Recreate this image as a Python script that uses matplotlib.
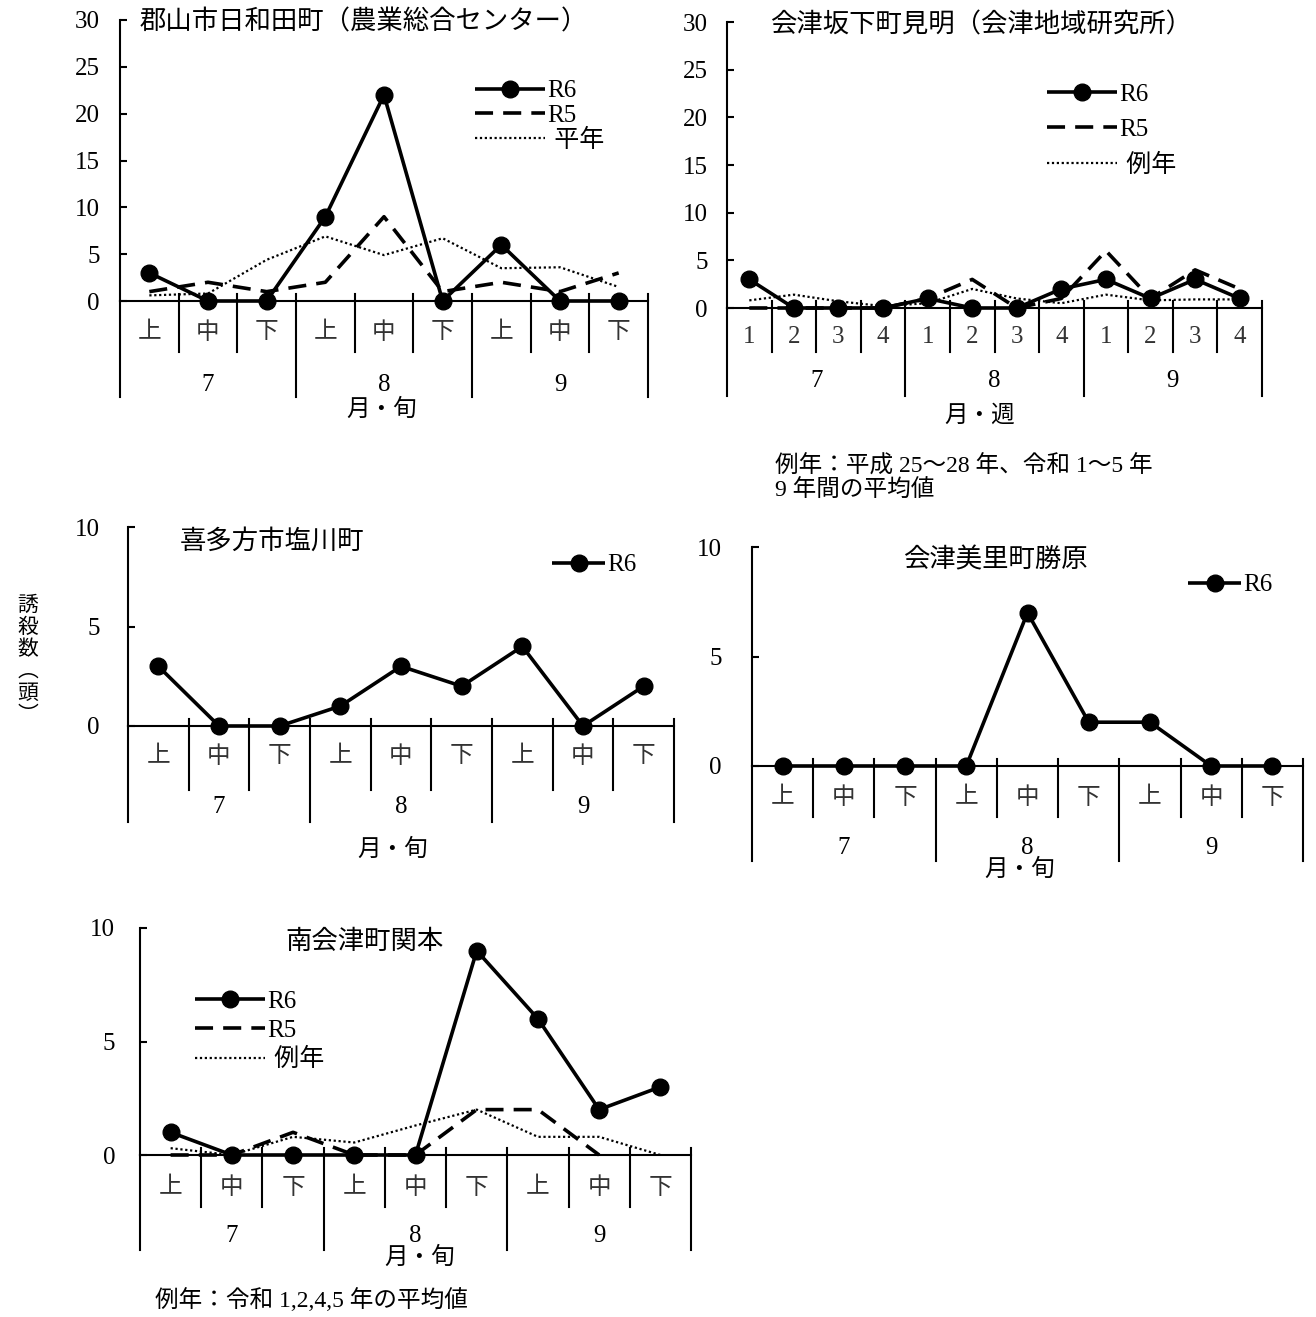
import matplotlib
matplotlib.use('Agg')
import matplotlib.pyplot as plt
import numpy as np
from matplotlib.transforms import blended_transform_factory

W, H = 1316, 1317
FONT = ['Liberation Serif', 'Noto Sans CJK JP']
plt.rcParams['font.family'] = FONT

# ---------------- data ----------------
jun_labels = ['上', '中', '下'] * 3
week_labels = ['1', '2', '3', '4'] * 3
month_labels = ['7', '8', '9']

koriyama_r6 = [3, 0, 0, 9, 22, 0, 6, 0, 0]
koriyama_r5 = [1, 2, 1, 2, 9, 1, 2, 1, 3]
koriyama_avg = [0.6, 0.8, 4.4, 6.9, 4.9, 6.7, 3.5, 3.6, 1.5]

bange_r6 = [3, 0, 0, 0, 1, 0, 0, 2, 3, 1, 3, 1]
bange_r5 = [0, 0, 0, 0, 1, 3, 0, 1, 6, 1, 4, 2]
bange_avg = [0.8, 1.4, 0.7, 0.2, 0.5, 2.0, 1.0, 0.5, 1.4, 0.8, 0.9, 0.9]

kitakata_r6 = [3, 0, 0, 1, 3, 2, 4, 0, 2]

misato_r6 = [0, 0, 0, 0, 7, 2, 2, 0, 0]

minami_r6 = [1, 0, 0, 0, 0, 9, 6, 2, 3]
minami_r5 = [0, 0, 1, 0, 0, 2, 2, 0, np.nan]
minami_avg = [0.3, 0.0, 0.8, 0.55, 1.3, 2.0, 0.8, 0.8, 0.0]

# ---------------- styles ----------------
STY_R6 = dict(color='black', lw=2.6, marker='o', ms=12, solid_capstyle='butt')
STY_R5 = dict(color='black', lw=2.6, linestyle=(0, (5, 2.8)))
STY_AVG = dict(color='black', lw=1.6, linestyle=(0, (1, 1.2)))
FS = 18      # numbers / legend
FS_CAT = 17  # 上中下
FS_TITLE = 19

fig = plt.figure(figsize=(W / 100, H / 100), dpi=100)


def chart(xl, xr, y0, yt, ymax, cats, series, title, title_xy,
          legend_xy, leg_spacing, leg_ls, handle_px, sep_b, grp_b, cat_y, mon_y,
          xlabel, xlabel_xy, pad_px):
    ax = fig.add_axes([xl / W, 1 - y0 / H, (xr - xl) / W, (y0 - yt) / H])
    n = len(cats)
    x = np.arange(n) + 0.5
    ax.set_xlim(0, n)
    ax.set_ylim(0, ymax)
    handles, labels = [], []
    for vals, sty, lab in series:
        ln, = ax.plot(x, vals, clip_on=False, zorder=3 if 'marker' in sty else 2, **sty)
        handles.append(ln)
        labels.append(lab)
    for s in ['top', 'right']:
        ax.spines[s].set_visible(False)
    ax.spines['left'].set_linewidth(1.5)
    ax.spines['bottom'].set_linewidth(1.5)
    ax.set_yticks(np.arange(0, ymax + 1, 5))
    ax.set_yticklabels([str(v) for v in range(0, ymax + 1, 5)])
    ax.tick_params(axis='y', direction='in', length=5, width=1.5,
                   pad=pad_px * 0.72, labelsize=FS)
    ax.set_xticks([])
    ax.patch.set_alpha(0)

    def f(py):
        return (y0 - py) / (y0 - yt)

    tr = blended_transform_factory(ax.transData, ax.transAxes)
    per = n // 3
    for i in range(1, n):
        bottom = grp_b if i % per == 0 else sep_b
        ax.plot([i, i], [f(y0 - 7), f(bottom)], transform=tr, color='black',
                lw=1.5, clip_on=False)
    ax.plot([0, 0], [0, f(grp_b)], transform=tr, color='black', lw=1.5, clip_on=False)
    ax.plot([n, n], [f(y0 - 7), f(grp_b)], transform=tr, color='black', lw=1.5,
            clip_on=False)
    for i, c in enumerate(cats):
        ax.text(i + 0.5, f(cat_y), c, transform=tr, ha='center', va='center',
                fontsize=FS_CAT if not c.isdigit() else FS, color='#333333')
    for k, m in enumerate(month_labels):
        ax.text(k * per + per / 2, f(mon_y), m, transform=tr, ha='center',
                va='center', fontsize=FS)
    fig.text(xlabel_xy[0] / W, 1 - xlabel_xy[1] / H, xlabel, ha='center',
             va='center', fontsize=FS_CAT)
    fig.text(title_xy[0] / W, 1 - title_xy[1] / H, title, ha='left',
             va='center', fontsize=FS_TITLE)
    hl = handle_px / (FS * 100 / 72)
    ax.legend(handles, labels, loc='center left',
              bbox_to_anchor=(legend_xy[0] / W,
                              1 - (legend_xy[1] + leg_spacing * (len(labels) - 1) / 2) / H),
              bbox_transform=fig.transFigure, frameon=False, borderpad=0,
              borderaxespad=0, handlelength=hl, handletextpad=0.1,
              labelspacing=leg_ls, fontsize=FS, numpoints=1)
    return ax


chart(120, 648, 301, 20, 30, jun_labels,
      [(koriyama_r6, STY_R6, 'R6'), (koriyama_r5, STY_R5, 'R5'),
       (koriyama_avg, STY_AVG, ' 平年')],
      '郡山市日和田町（農業総合センター）', (140, 22),
      (475, 89), 27, 0.08, 70, 352, 397, 333, 385, '月・旬', (382, 410), 20)

chart(727, 1262, 308, 22, 30, week_labels,
      [(bange_r6, STY_R6, 'R6'), (bange_r5, STY_R5, 'R5'),
       (bange_avg, STY_AVG, ' 例年')],
      '会津坂下町見明（会津地域研究所）', (770, 25),
      (1047, 93), 37, 0.5, 70, 352, 396, 337, 381, '月・週', (980, 416), 19)

chart(128, 674, 726, 527, 10, jun_labels,
      [(kitakata_r6, STY_R6, 'R6')],
      '喜多方市塩川町', (180, 541),
      (552, 565), 0, 0.2, 53, 790, 822, 757, 807, '月・旬', (393, 850), 28)

chart(752, 1303, 766, 547, 10, jun_labels,
      [(misato_r6, STY_R6, 'R6')],
      '会津美里町勝原', (903, 560),
      (1188, 585), 0, 0.2, 53, 817, 861, 798, 848, '月・旬', (1020, 870), 30)

chart(140, 691, 1155, 928, 10, jun_labels,
      [(minami_r6, STY_R6, 'R6'), (minami_r5, STY_R5, 'R5'),
       (minami_avg, STY_AVG, ' 例年')],
      '南会津町関本', (285, 942),
      (195, 1000), 31, 0.25, 70, 1207, 1250, 1188, 1236, '月・旬', (420, 1258), 25)

fig.text(775 / W, 1 - 467 / H, '例年：平成 25～28 年、令和 1～5 年', ha='left',
         va='center', fontsize=17)
fig.text(775 / W, 1 - 491 / H, '9 年間の平均値', ha='left', va='center', fontsize=17)
fig.text(155 / W, 1 - 1300 / H, '例年：令和 1,2,4,5 年の平均値', ha='left',
         va='center', fontsize=17)
fig.text(28 / W, 1 - 660 / H, '誘\n殺\n数\n︵\n頭\n︶', ha='center', va='center',
         fontsize=15, linespacing=1.0, family='Noto Sans CJK JP')

fig.savefig('out.png', dpi=100)
